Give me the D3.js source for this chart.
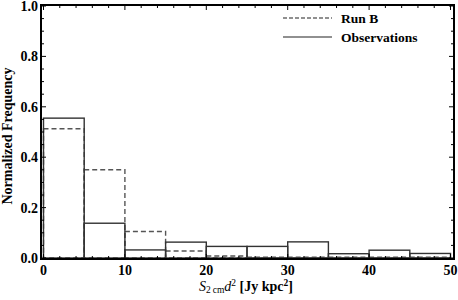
<!DOCTYPE html>
<html>
<head>
<meta charset="utf-8">
<script src="https://d3js.org/d3.v7.min.js"></script>
<style>
  body { margin: 0; background: #fff; }
</style>
</head>
<body>
<div id="plotDiv"></div>
<script>
// bin edges (Jy kpc^2), bin width 5
var binStarts = [0, 5, 10, 15, 20, 25, 30, 35, 40, 45];
var binWidth = 5;
var runB = [0.513, 0.350, 0.105, 0.028, 0.008, 0.003, 0.003, 0.003, 0.003, 0.003];
var observations = [0.555, 0.138, 0.032, 0.063, 0.046, 0.046, 0.064, 0.017, 0.031, 0.018];
var xTicks = [0, 10, 20, 30, 40, 50];
var yTicks = [0.0, 0.2, 0.4, 0.6, 0.8, 1.0];
var legendNames = ["Run B", "Observations"];

var width = 458, height = 300;
var frame = {left: 41, right: 454, top: 5, bottom: 259};
var serif = '"Liberation Serif", "Times New Roman", Times, serif';

var svg = d3.select('#plotDiv').append('svg')
    .attr('width', width)
    .attr('height', height)
    .attr('font-family', serif)
    .attr('font-weight', 'bold');

var x = d3.scaleLinear().domain([0, 50]).range([43.5, 450.5]);
var y = d3.scaleLinear().domain([0, 1]).range([258, 6]);

// histogram boxes
function drawHist(vals, cls, color, dash, sw) {
    svg.append('g').attr('class', cls)
        .selectAll('rect')
        .data(vals)
        .enter().append('rect')
        .attr('x', function(d, i) { return x(binStarts[i]); })
        .attr('y', function(d) { return y(d); })
        .attr('width', function(d, i) { return x(binStarts[i] + binWidth) - x(binStarts[i]); })
        .attr('height', function(d) { return y(0) - y(d); })
        .attr('fill', 'none')
        .attr('stroke', color)
        .attr('stroke-width', sw)
        .attr('stroke-dasharray', dash);
}
drawHist(runB, 'runB', '#555', '5,3', 1.4);
drawHist(observations, 'obs', '#333', null, 1.4);

// frame ticks (inside, on every side)
var gx = svg.append('g');
var xMinor = d3.range(0, 50.01, 2);
var yMinor = d3.range(0, 1.001, 0.05);
xMinor.forEach(function(v) {
    var major = Math.abs(v % 10) < 1e-6;
    var len = major ? 5 : 3;
    gx.append('line').attr('x1', x(v)).attr('x2', x(v))
        .attr('y1', frame.bottom).attr('y2', frame.bottom - len)
        .attr('stroke', '#000').attr('stroke-width', 1);
    gx.append('line').attr('x1', x(v)).attr('x2', x(v))
        .attr('y1', frame.top).attr('y2', frame.top + len)
        .attr('stroke', '#000').attr('stroke-width', 1);
});
yMinor.forEach(function(v) {
    var major = Math.abs(Math.round(v * 10) - v * 10) < 1e-6 && Math.round(v * 10) % 2 == 0;
    var len = major ? 5 : 3;
    gx.append('line').attr('y1', y(v)).attr('y2', y(v))
        .attr('x1', frame.left).attr('x2', frame.left + len)
        .attr('stroke', '#000').attr('stroke-width', 1);
    gx.append('line').attr('y1', y(v)).attr('y2', y(v))
        .attr('x1', frame.right).attr('x2', frame.right - len)
        .attr('stroke', '#000').attr('stroke-width', 1);
});

svg.append('rect')
    .attr('x', frame.left).attr('y', frame.top)
    .attr('width', frame.right - frame.left)
    .attr('height', frame.bottom - frame.top)
    .attr('fill', 'none').attr('stroke', '#000').attr('stroke-width', 2);

// tick labels
svg.append('g').selectAll('text').data(xTicks).enter().append('text')
    .attr('x', function(d) { return x(d); })
    .attr('y', 275)
    .attr('text-anchor', 'middle')
    .attr('font-size', 14)
    .text(function(d) { return d; });

svg.append('g').selectAll('text').data(yTicks).enter().append('text')
    .attr('x', 38)
    .attr('y', function(d) { return y(d) + 5; })
    .attr('text-anchor', 'end')
    .attr('font-size', 14)
    .text(function(d) { return d3.format('.1f')(d); });

// axis titles
svg.append('text')
    .attr('transform', 'translate(12,' + 136 + ') rotate(-90)')
    .attr('text-anchor', 'middle')
    .attr('font-size', 14)
    .text('Normalized Frequency');

var xl = svg.append('text')
    .attr('x', 246).attr('y', 291)
    .attr('text-anchor', 'middle')
    .attr('font-size', 14);
xl.append('tspan').attr('font-style', 'italic').attr('font-weight', 'normal').text('S');
xl.append('tspan').attr('font-size', 9.5).attr('font-weight', 'normal').attr('dy', 2).text('2\u2009cm');
xl.append('tspan').attr('font-style', 'italic').attr('font-weight', 'normal').attr('dy', -2).text('d');
xl.append('tspan').attr('font-size', 9.5).attr('font-weight', 'normal').attr('dy', -5).text('2');
xl.append('tspan').attr('dy', 5).text('\u00a0[Jy kpc');
xl.append('tspan').attr('font-size', 9.5).attr('dy', -5).text('2');
xl.append('tspan').attr('dy', 5).text(']');

// legend
var legend = svg.append('g');
legendNames.forEach(function(name, i) {
    var ly = 18 + i * 19;
    legend.append('line')
        .attr('x1', 283).attr('x2', 332)
        .attr('y1', ly).attr('y2', ly)
        .attr('stroke', '#222')
        .attr('stroke-width', 1.2)
        .attr('stroke-dasharray', i == 0 ? '4,2' : null);
    legend.append('text')
        .attr('x', 341).attr('y', ly + 4.5)
        .attr('font-size', 13.5)
        .text(name);
});
</script>
</body>
</html>
